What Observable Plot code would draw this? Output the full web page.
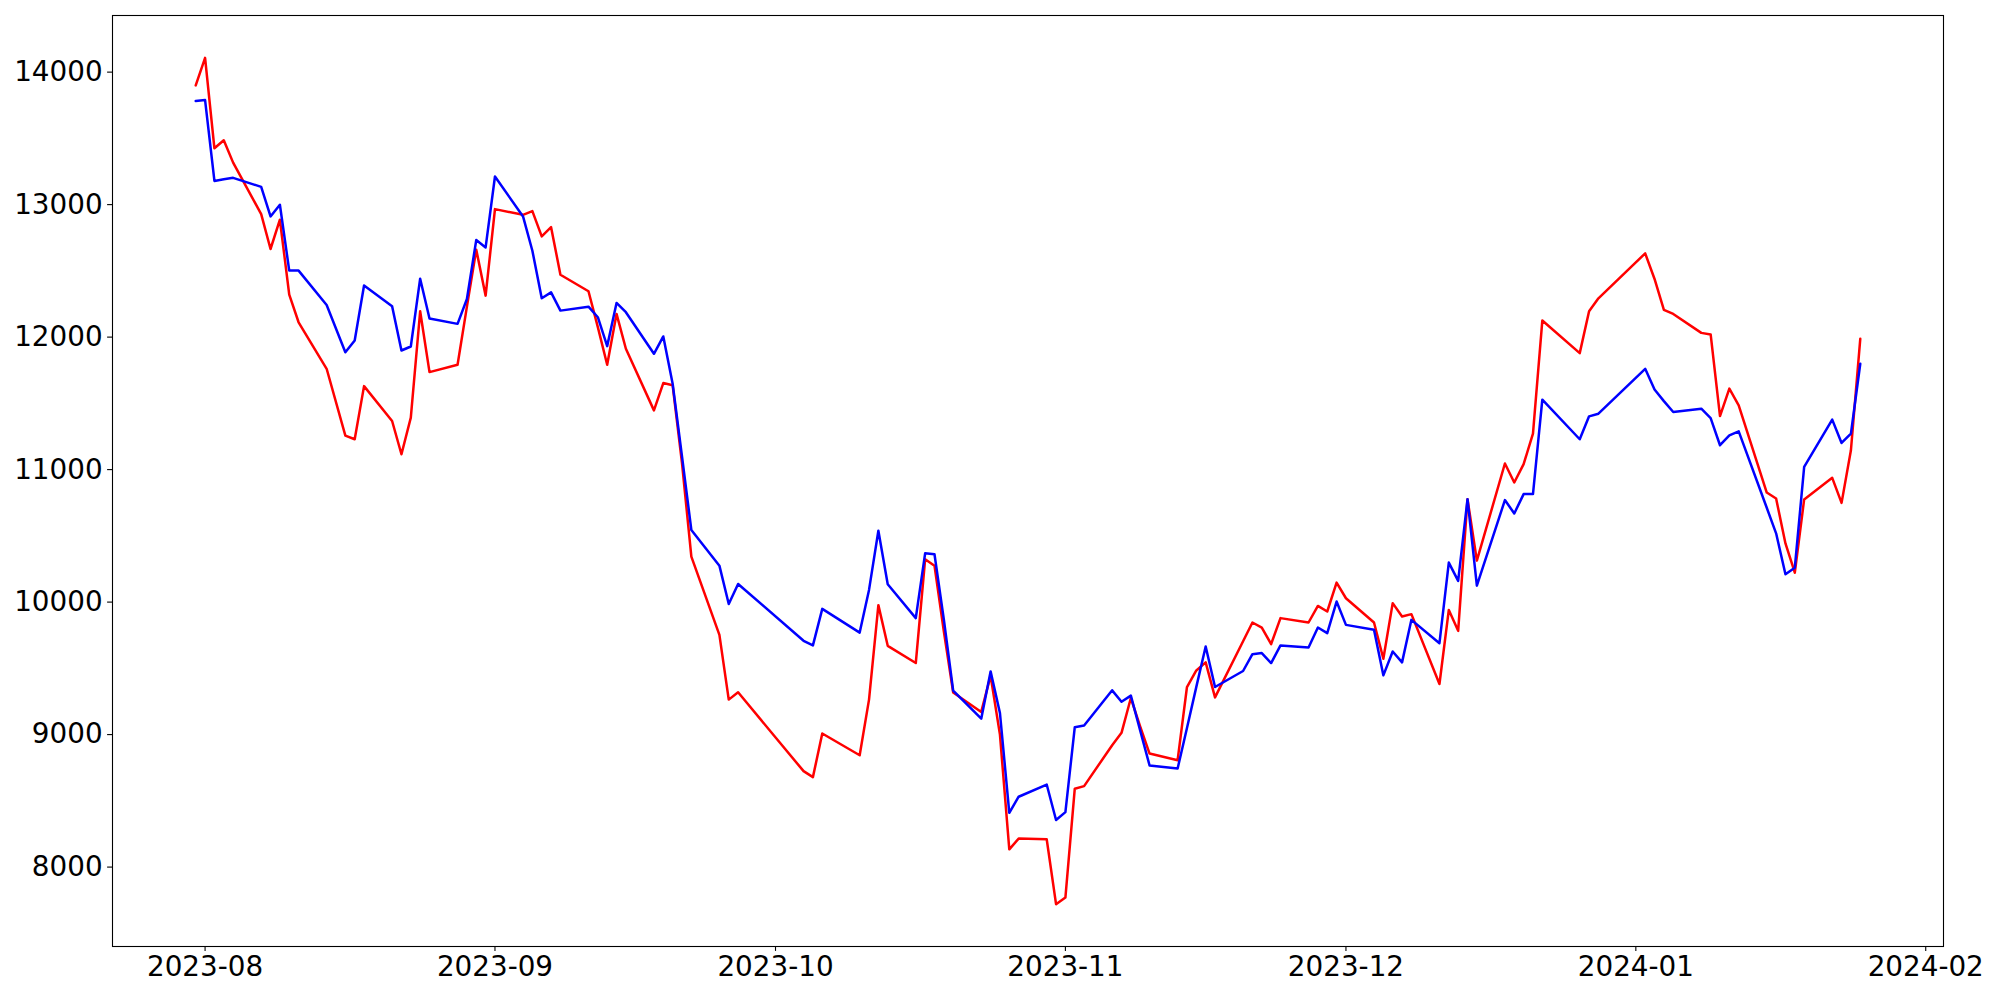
<!DOCTYPE html>
<html>
<head>
<meta charset="utf-8">
<script src="https://cdn.jsdelivr.net/npm/d3@7"></script>
<script src="https://cdn.jsdelivr.net/npm/@observablehq/plot@0.6"></script>
<style>
  html, body { margin: 0; padding: 0; background: #fff; }
  #chart { width: 2000px; height: 1000px; }
</style>
</head>
<body>
<div id="chart"></div>
<script>
// Trading days (KRX calendar) shown in the chart
const dates = [
  "2023-07-31",
  "2023-08-01","2023-08-02","2023-08-03","2023-08-04","2023-08-07","2023-08-08","2023-08-09","2023-08-10","2023-08-11",
  "2023-08-14","2023-08-16","2023-08-17","2023-08-18","2023-08-21","2023-08-22","2023-08-23","2023-08-24","2023-08-25",
  "2023-08-28","2023-08-29","2023-08-30","2023-08-31",
  "2023-09-01","2023-09-04","2023-09-05","2023-09-06","2023-09-07","2023-09-08","2023-09-11","2023-09-12","2023-09-13",
  "2023-09-14","2023-09-15","2023-09-18","2023-09-19","2023-09-20","2023-09-21","2023-09-22","2023-09-25","2023-09-26","2023-09-27",
  "2023-10-04","2023-10-05","2023-10-06","2023-10-10","2023-10-11","2023-10-12","2023-10-13","2023-10-16","2023-10-17",
  "2023-10-18","2023-10-19","2023-10-20","2023-10-23","2023-10-24","2023-10-25","2023-10-26","2023-10-27","2023-10-30","2023-10-31",
  "2023-11-01","2023-11-02","2023-11-03","2023-11-06","2023-11-07","2023-11-08","2023-11-09","2023-11-10","2023-11-13",
  "2023-11-14","2023-11-15","2023-11-16","2023-11-17","2023-11-20","2023-11-21","2023-11-22","2023-11-23","2023-11-24",
  "2023-11-27","2023-11-28","2023-11-29","2023-11-30",
  "2023-12-01","2023-12-04","2023-12-05","2023-12-06","2023-12-07","2023-12-08","2023-12-11","2023-12-12","2023-12-13",
  "2023-12-14","2023-12-15","2023-12-18","2023-12-19","2023-12-20","2023-12-21","2023-12-22","2023-12-26","2023-12-27","2023-12-28",
  "2024-01-02","2024-01-03","2024-01-04","2024-01-05","2024-01-08","2024-01-09","2024-01-10","2024-01-11","2024-01-12",
  "2024-01-15","2024-01-16","2024-01-17","2024-01-18","2024-01-19","2024-01-22","2024-01-23","2024-01-24","2024-01-25"
];

// Red series
const redValues = [
  13900,
  14108,13425,13486,13317,12928,12665,12886,12321,12112,
  11761,11257,11229,11630,11367,11116,11392,12195,11736,
  11791,12230,12660,12313,
  12966,12923,12951,12760,12830,12471,12346,12075,11791,
  12175,11912,11447,11653,11636,11050,10343,9753,9264,9319,
  8724,8679,9008,8844,9264,9977,9670,9540,10323,
  10275,9780,9318,9171,9444,9000,8134,8215,8210,7720,
  7770,8591,8611,8920,9013,9276,9060,8857,8807,
  9359,9484,9545,9281,9705,9846,9808,9683,9879,
  9846,9971,9929,10147,
  10029,9846,9572,9992,9891,9909,9382,9941,9783,
  10777,10313,11046,10903,11041,11272,12125,11879,12195,12293,
  12632,12439,12206,12175,12032,12020,11404,11611,11485,
  10827,10782,10443,10222,10775,10938,10749,11146,11987
];

// Blue series
const blueValues = [
  13782,
  13789,13179,13192,13202,13134,12911,12999,12502,12502,
  12243,11886,11975,12389,12233,11899,11929,12441,12140,
  12100,12288,12733,12677,
  13212,12911,12652,12293,12338,12200,12230,12150,11932,
  12258,12188,11874,12005,11648,11100,10544,10275,9986,10137,
  9708,9673,9949,9770,10092,10539,10135,9879,10368,
  10361,9870,9331,9120,9477,9163,8410,8531,8623,8355,
  8415,9055,9068,9334,9248,9294,9030,8767,8744,
  9050,9360,9665,9359,9480,9607,9615,9540,9673,
  9658,9808,9766,10004,
  9828,9791,9447,9627,9545,9866,9690,10298,10160,
  10777,10124,10770,10669,10815,10815,11528,11229,11402,11422,
  11761,11605,11517,11435,11460,11389,11184,11259,11289,
  10712,10519,10210,10260,11020,11377,11201,11272,11799
];

const yTicks = [8000, 9000, 10000, 11000, 12000, 13000, 14000];
const xTickLabels = ["2023-08","2023-09","2023-10","2023-11","2023-12","2024-01","2024-02"];

const parseDay = d3.utcParse("%Y-%m-%d");
const parseMonth = d3.utcParse("%Y-%m");
const data = dates.map((d, i) => ({date: parseDay(d), red: redValues[i], blue: blueValues[i]}));

// matplotlib-style 5% autoscale margins
const tExt = d3.extent(data, d => d.date);
const tPad = (tExt[1] - tExt[0]) * 0.05;
const xDomain = [new Date(+tExt[0] - tPad), new Date(+tExt[1] + tPad)];
const allVals = redValues.concat(blueValues);
const vMin = d3.min(allVals), vMax = d3.max(allVals);
const vPad = (vMax - vMin) * 0.05;
const yDomain = [vMin - vPad, vMax + vPad];

const chart = Plot.plot({
  width: 2000,
  height: 1000,
  marginLeft: 112,
  marginRight: 57,
  marginTop: 15,
  marginBottom: 54,
  style: {fontFamily: "'DejaVu Sans', sans-serif", fontSize: "27.8px", color: "black", background: "white", overflow: "visible"},
  x: {type: "utc", domain: xDomain},
  y: {domain: yDomain},
  marks: [
    Plot.axisX({ticks: xTickLabels.map(parseMonth), tickFormat: d3.utcFormat("%Y-%m"), tickSize: 4.9, tickPadding: 5, label: null, stroke: "black", strokeWidth: 1.1}),
    Plot.axisY({ticks: yTicks, tickFormat: d => String(d), tickSize: 4.9, tickPadding: 5, label: null, stroke: "black", strokeWidth: 1.1}),
    Plot.line(data, {x: "date", y: "red", stroke: "#ff0000", strokeWidth: 2.5}),
    Plot.line(data, {x: "date", y: "blue", stroke: "#0000ff", strokeWidth: 2.5}),
    Plot.frame({stroke: "black", strokeWidth: 1.1})
  ]
});
document.getElementById("chart").appendChild(chart);
</script>
</body>
</html>
